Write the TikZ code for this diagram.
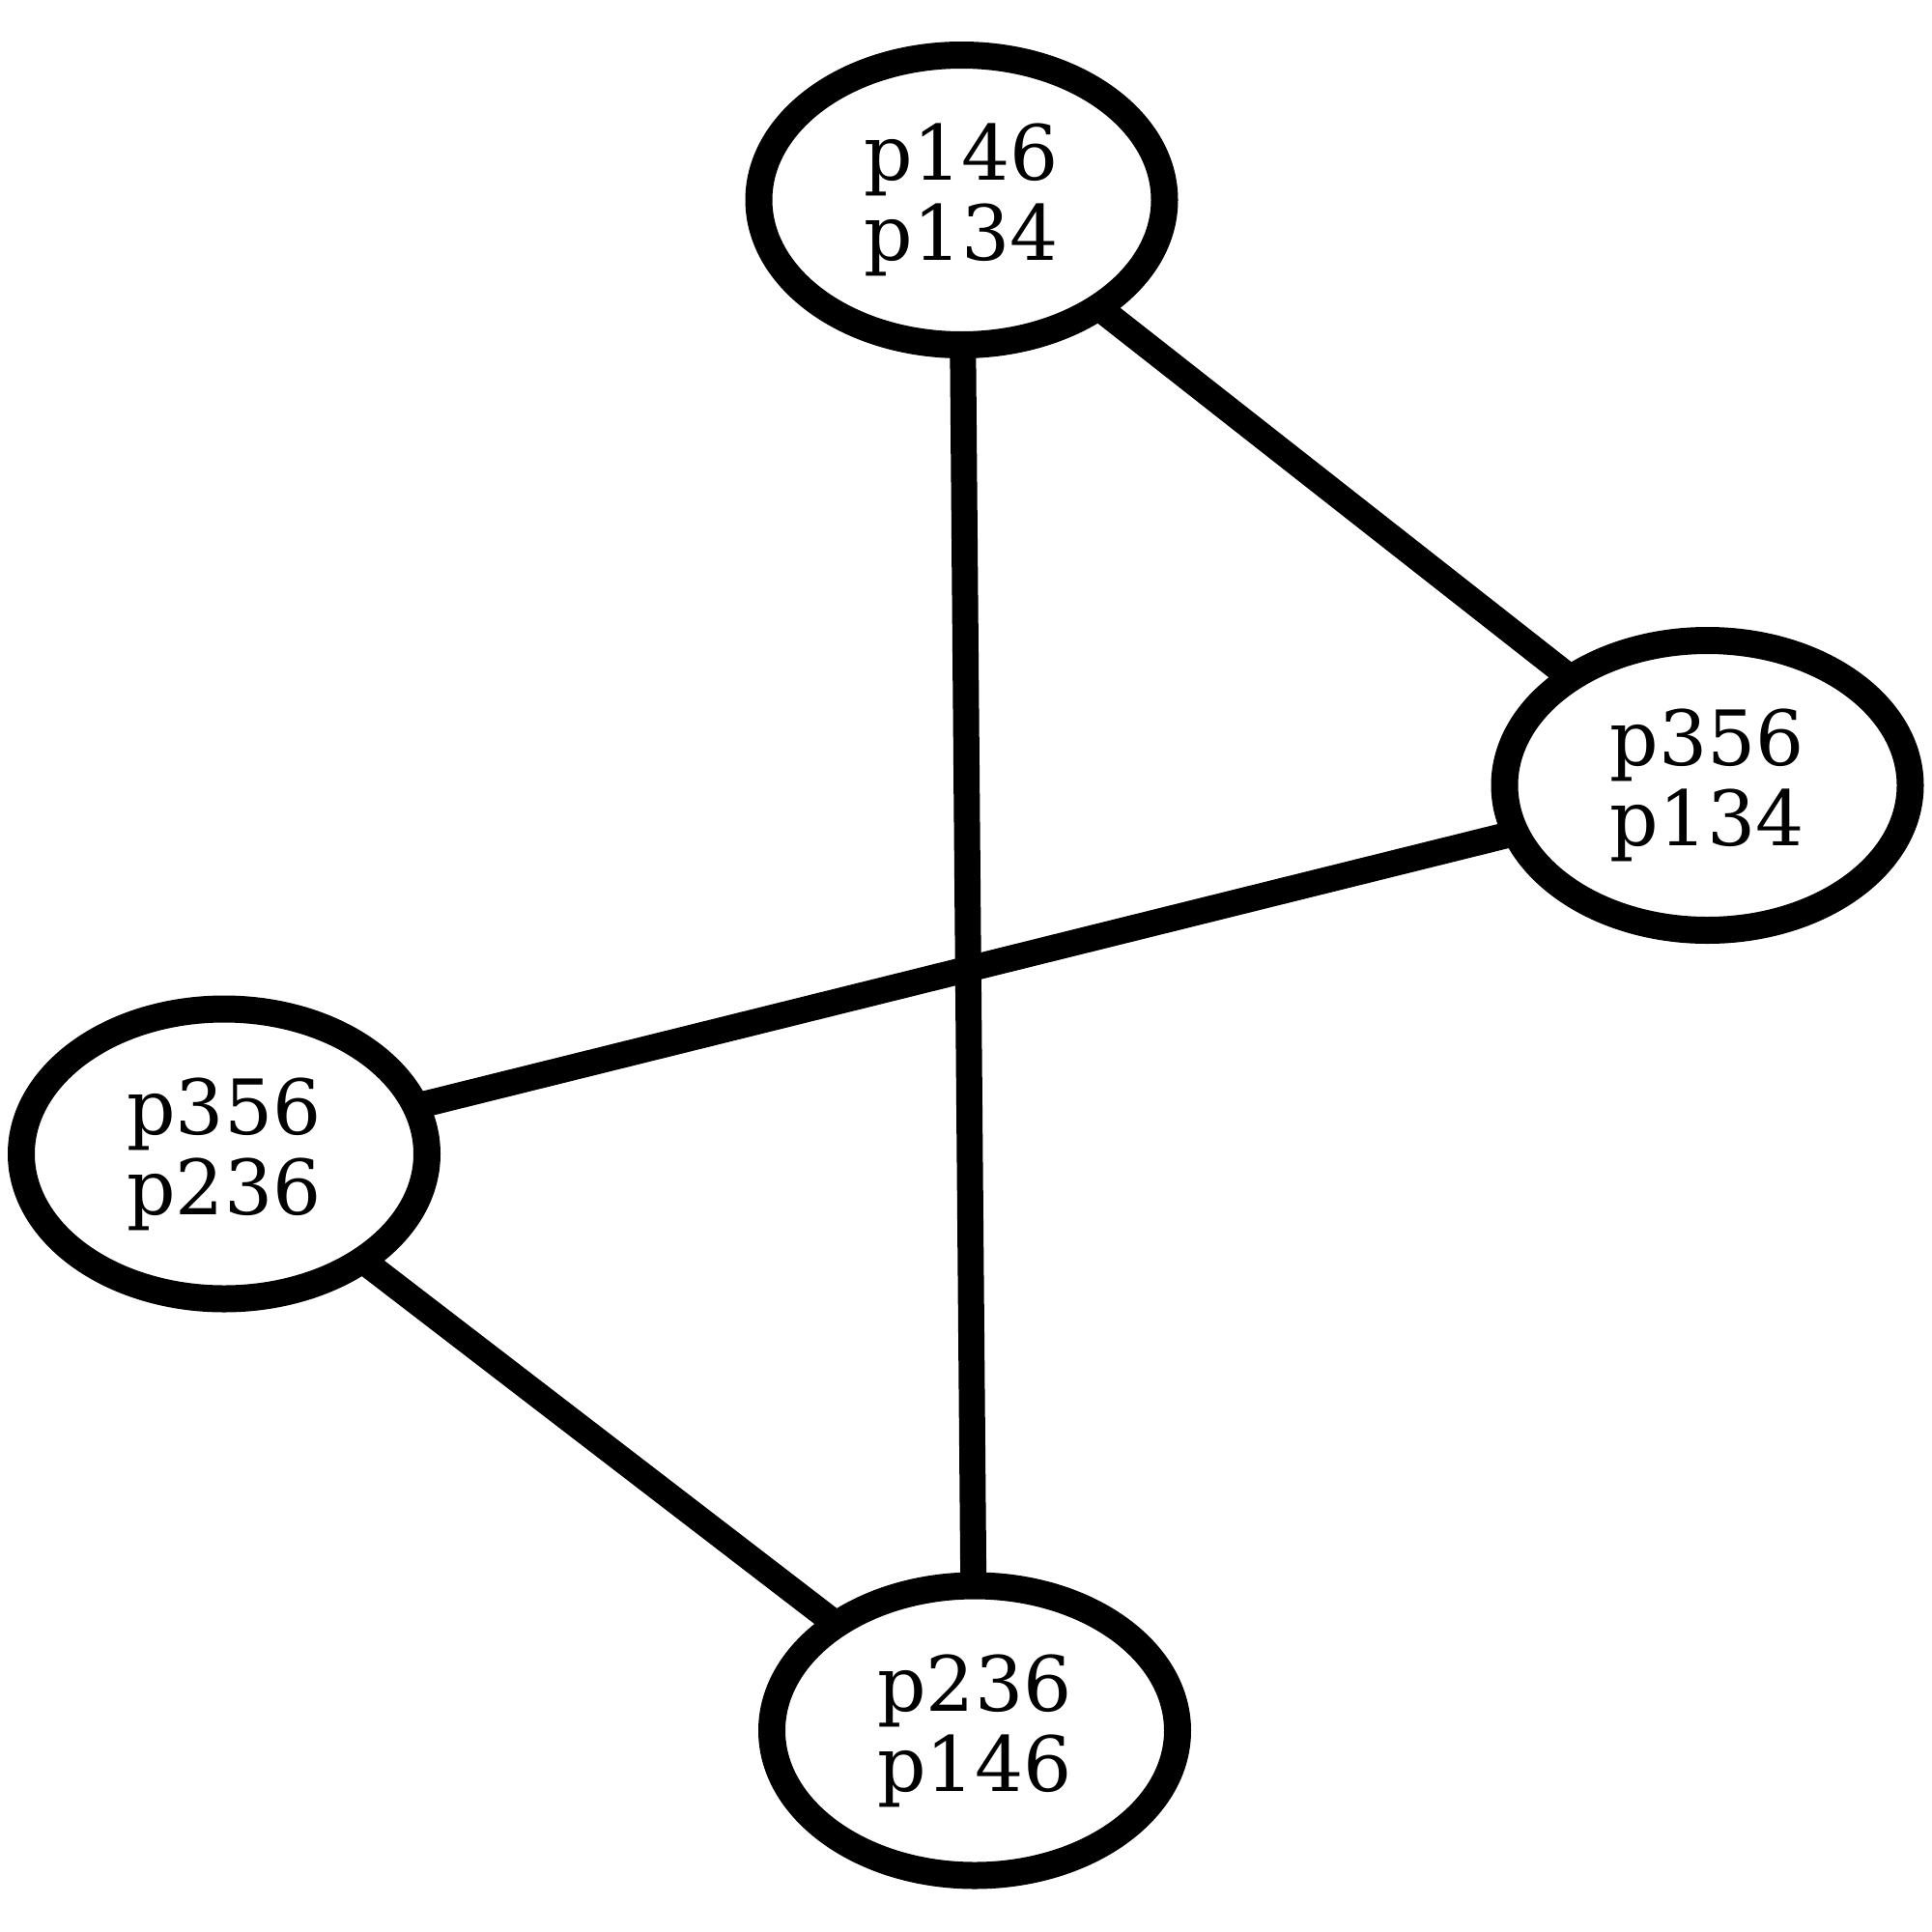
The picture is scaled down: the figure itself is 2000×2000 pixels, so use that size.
\documentclass[tikz,border=0pt]{standalone}
\usepackage{fontspec}
\setmainfont{DejaVu Serif}
\usetikzlibrary{shapes.geometric,backgrounds}
\begin{document}
\begin{tikzpicture}[x=1pt,y=-1pt,
  pair/.style={ellipse, draw, fill=white, line width=28pt, inner sep=0pt,
    minimum width=420pt, minimum height=300pt, align=center,
    font={\fontsize{79}{83}\selectfont}},
  link/.style={line width=27pt}]
\useasboundingbox (0,0) rectangle (2000,2000);
\node[pair] (top)    at (995.5,207)  {p146\\p134};
\node[pair] (right)  at (1767.5,813) {p356\\p134};
\node[pair] (left)   at (232,1194.5) {p356\\p236};
\node[pair] (bottom) at (1009,1791.5) {p236\\p146};
% edges run centre to centre behind the white-filled ellipses
\begin{scope}[on background layer]
\draw[link] (top.center) -- (right.center);
\draw[link] (top.center) -- (bottom.center);
\draw[link] (right.center) -- (left.center);
\draw[link] (left.center) -- (bottom.center);
\end{scope}
\end{tikzpicture}
\end{document}
